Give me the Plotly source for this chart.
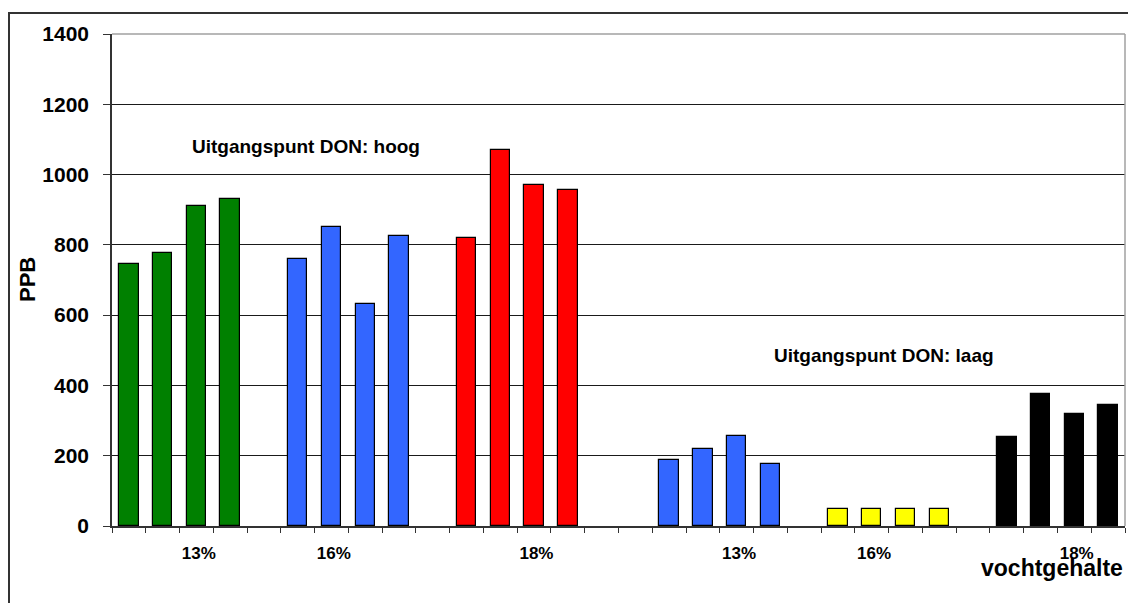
import plotly.graph_objects as go

# DON levels (PPB) per moisture content, four samples each
moisture_labels = ["13%", "16%", "18%", "13%", "16%", "18%"]
high_13 = [746, 777, 912, 930]
high_16 = [760, 851, 633, 824]
high_18 = [820, 1070, 969, 956]
low_13 = [189, 220, 256, 177]
low_16 = [49, 49, 49, 49]
low_18 = [252, 376, 319, 344]

series = [high_13, high_16, high_18, low_13, low_16, low_18]
colors = ["#008000", "#3366FF", "#FF0000", "#3366FF", "#FFFF00", "#000000"]

# slot layout of the category axis: each group starts at a given slot
group_start = [0, 5, 10, 16, 21, 26]
n_slots = 30
label_slot = [2.07, 6.07, 12.07, 18.07, 22.07, 28.07]

FONT = "Liberation Sans, Arial, sans-serif"

fig = go.Figure()
for vals, col, start in zip(series, colors, group_start):
    fig.add_trace(go.Bar(
        x=[start + i for i in range(len(vals))],
        y=vals,
        width=0.575,
        marker=dict(color=col, line=dict(color="#000000", width=1.2)),
        showlegend=False,
    ))

fig.update_layout(
    width=1128, height=603,
    margin=dict(l=112, r=3, t=34, b=77),
    paper_bgcolor="white", plot_bgcolor="white",
    font=dict(family=FONT, color="#000000"),
    bargap=0,
)

fig.update_xaxes(
    range=[-0.5, n_slots - 0.5],
    tickmode="array",
    tickvals=label_slot,
    ticktext=[f"<b>{t}</b>" for t in moisture_labels],
    tickfont=dict(size=17, family=FONT, color="#000000"),
    ticks="outside", ticklen=0, tickcolor="rgba(0,0,0,0)",
    ticklabelstandoff=11,
    minor=dict(ticks="outside", ticklen=5, tickwidth=1.2, tickcolor="#333333",
               tick0=-0.5, dtick=1, showgrid=False),
    showgrid=False, zeroline=False,
    showline=True, linecolor="#333333", linewidth=1.5,
    fixedrange=True,
)

fig.update_yaxes(
    range=[0, 1400], dtick=200,
    tickfont=dict(size=21, family=FONT, color="#000000"),
    tickprefix="<b>", ticksuffix="</b>",
    ticks="outside", ticklen=7, tickwidth=1.2, tickcolor="#333333",
    ticklabelstandoff=10,
    showgrid=True, gridcolor="#1a1a1a", gridwidth=1,
    zeroline=False,
    showline=True, linecolor="#333333", linewidth=1.5,
    fixedrange=True,
)

# plot-area border (top and right edges in grey)
fig.add_shape(type="line", xref="paper", yref="paper", x0=0, x1=1, y0=1, y1=1,
              line=dict(color="#a0a0a0", width=1.5), layer="above")
fig.add_shape(type="line", xref="paper", yref="paper", x0=1, x1=1, y0=0, y1=1,
              line=dict(color="#a0a0a0", width=1.5), layer="above")

# outer chart frame
pw, ph = 1128 - 112 - 3, 603 - 34 - 77
fig.add_shape(type="rect", xref="paper", yref="paper",
              x0=(9 - 112) / pw, x1=(1140 - 112) / pw,
              y0=(526 - 615) / ph, y1=(526 - 13) / ph,
              line=dict(color="#333333", width=2), layer="below")

fig.add_annotation(text="<b>PPB</b>", xref="paper", yref="paper",
                   x=(27 - 112) / pw, y=0.5, textangle=-90, showarrow=False,
                   font=dict(size=22, family=FONT, color="#000000"),
                   xanchor="center", yanchor="middle")
fig.add_annotation(text="<b>vochtgehalte</b>", xref="paper", yref="paper",
                   x=1.0, y=(526 - 568) / ph, showarrow=False,
                   font=dict(size=23, family=FONT, color="#000000"),
                   xanchor="right", yanchor="middle")
fig.add_annotation(text="<b>Uitgangspunt DON: hoog</b>", xref="x", yref="y",
                   x=1.81, y=1081, showarrow=False,
                   font=dict(size=19, family=FONT, color="#000000"),
                   xanchor="left", yanchor="middle")
fig.add_annotation(text="<b>Uitgangspunt DON: laag</b>", xref="x", yref="y",
                   x=19.05, y=484, showarrow=False,
                   font=dict(size=19, family=FONT, color="#000000"),
                   xanchor="left", yanchor="middle")

fig.write_html("out.html")
